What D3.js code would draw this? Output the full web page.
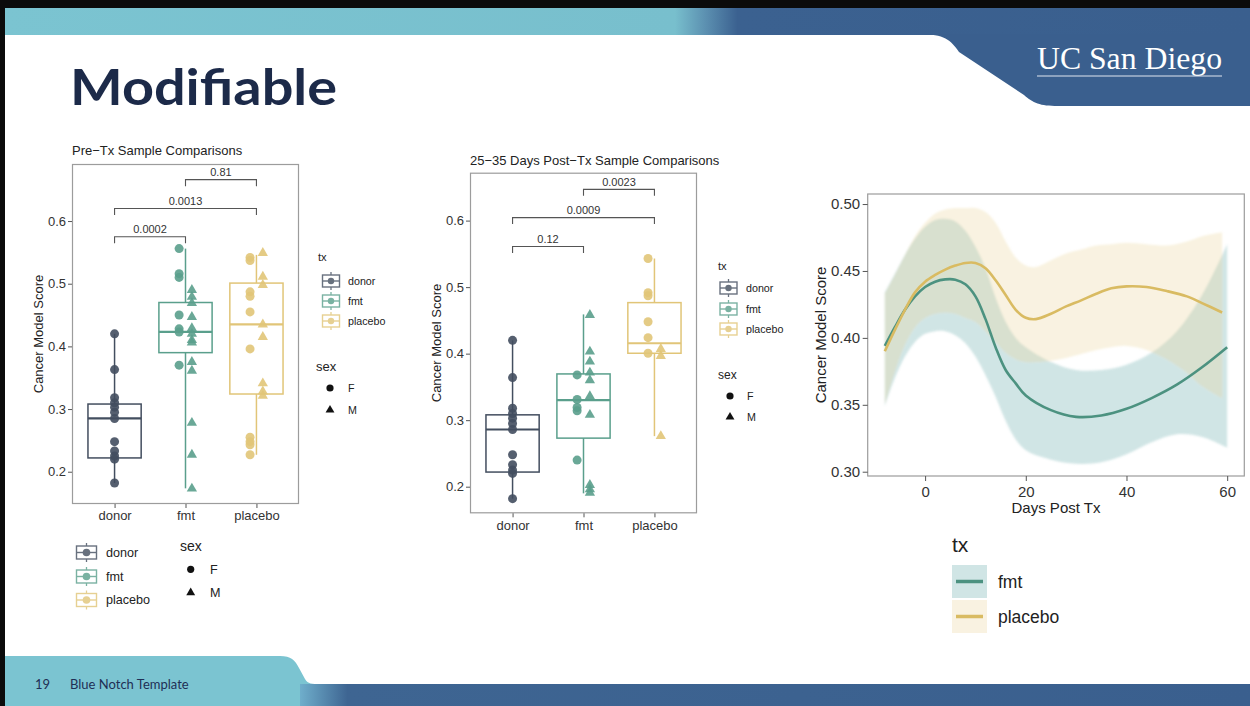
<!DOCTYPE html>
<html><head><meta charset="utf-8">
<script src="https://cdn.jsdelivr.net/npm/d3@7"></script>
<style>
html,body{margin:0;padding:0;background:#fff;}
svg{display:block;}
</style></head>
<body>
<svg id="c" width="1250" height="706"></svg>
<script>
// ---------------- DATA ----------------
const groups = ["donor", "fmt", "placebo"];
const yTicksBox = [0.2, 0.3, 0.4, 0.5, 0.6];

// Pre-Tx points by group and sex
const preDonorF = [0.420, 0.363, 0.318, 0.310, 0.303, 0.295, 0.285, 0.248, 0.233, 0.225, 0.220, 0.182];
const preDonorM = [];
const preFmtF = [0.556, 0.516, 0.510, 0.450, 0.428, 0.423, 0.370];
const preFmtM = [0.490, 0.479, 0.469, 0.447, 0.429, 0.420, 0.410, 0.406, 0.375, 0.361, 0.278, 0.227, 0.173];
const prePlaceboF = [0.542, 0.537, 0.487, 0.480, 0.455, 0.396, 0.255, 0.248, 0.243, 0.227];
const prePlaceboM = [0.549, 0.511, 0.498, 0.435, 0.415, 0.341, 0.328, 0.321];
// Pre-Tx box stats (donor, fmt, placebo)
const preLo  = [0.182, 0.1735, 0.227];
const preQ1  = [0.222, 0.390, 0.324];
const preMed = [0.285, 0.423, 0.435];
const preQ3  = [0.308, 0.470, 0.501];
const preHi  = [0.420, 0.556, 0.546];
// Pre-Tx comparisons
const preCmpA = ["donor", "donor", "fmt"];
const preCmpB = ["fmt", "placebo", "placebo"];
const preCmpY = [0.575, 0.620, 0.666];
const preCmpP = ["0.0002", "0.0013", "0.81"];

// Post-Tx points
const postDonorF = [0.420, 0.364, 0.318, 0.310, 0.303, 0.295, 0.286, 0.248, 0.233, 0.225, 0.220, 0.182];
const postDonorM = [];
const postFmtF = [0.368, 0.331, 0.319, 0.314, 0.240];
const postFmtM = [0.458, 0.403, 0.388, 0.3715, 0.360, 0.336, 0.308, 0.2026, 0.196, 0.191];
const postPlaceboF = [0.543, 0.4917, 0.487, 0.448, 0.424, 0.4006];
const postPlaceboM = [0.407, 0.3965, 0.276];
const postLo  = [0.182, 0.190, 0.276];
const postQ1  = [0.222, 0.273, 0.4006];
const postMed = [0.286, 0.330, 0.4156];
const postQ3  = [0.308, 0.3695, 0.4767];
const postHi  = [0.420, 0.459, 0.543];
const postCmpA = ["donor", "donor", "fmt"];
const postCmpB = ["fmt", "placebo", "placebo"];
const postCmpY = [0.561, 0.6045, 0.647];
const postCmpP = ["0.12", "0.0009", "0.0023"];

// Smooth (loess) curves over days post Tx
const smoothYTicks = [0.30, 0.35, 0.40, 0.45, 0.50];
const smoothXTicks = [0, 20, 40, 60];
const fmtDays = [-8,-6,-4,-2,0,2,4,6,8,10,12,14,16,18,20,25,30,35,40,45,50,55,60];
const fmtFit  = [0.394,0.408,0.421,0.431,0.438,0.442,0.4437,0.4435,0.440,0.431,0.414,0.393,0.376,0.366,0.357,0.346,0.341,0.342,0.347,0.355,0.365,0.378,0.393];
const fmtLo   = [0.349,0.370,0.386,0.397,0.403,0.405,0.405,0.402,0.396,0.386,0.372,0.356,0.338,0.324,0.316,0.309,0.306,0.307,0.313,0.322,0.328,0.326,0.318];
const fmtHi   = [0.434,0.448,0.462,0.474,0.483,0.488,0.489,0.487,0.480,0.468,0.452,0.430,0.412,0.400,0.393,0.382,0.376,0.376,0.380,0.389,0.405,0.432,0.470];
const placeboDays = [-8,-6,-4,-2,0,2,4,6,8,10,12,14,16,18,20,22,25,28,31,34,37,40,44,48,52,55,59];
const placeboFit  = [0.390,0.406,0.421,0.434,0.442,0.447,0.451,0.454,0.456,0.456,0.452,0.443,0.432,0.421,0.415,0.414,0.418,0.4235,0.428,0.433,0.437,0.4385,0.438,0.435,0.431,0.426,0.419];
const placeboLo   = [0.350,0.375,0.395,0.408,0.415,0.418,0.419,0.418,0.415,0.412,0.405,0.397,0.389,0.384,0.382,0.382,0.383,0.385,0.388,0.391,0.393,0.394,0.391,0.384,0.374,0.364,0.355];
const placeboHi   = [0.433,0.447,0.462,0.476,0.486,0.493,0.496,0.497,0.497,0.497,0.494,0.486,0.472,0.460,0.454,0.453,0.458,0.463,0.466,0.469,0.470,0.471,0.470,0.469,0.472,0.476,0.479];

// ---------------- STYLE ----------------
const FONT = "'Liberation Sans', Arial, Helvetica, sans-serif";
const boxColors = {donor: "#434e5f", fmt: "#5a9f8c", placebo: "#e1c578"};
const axisGray = "#9c9c9c";
const textGray = "#333";

const svg = d3.select("#c");

// ---------------- SLIDE DECOR ----------------
const defs = svg.append("defs");
const tg = defs.append("linearGradient").attr("id", "topg").attr("x1", 0).attr("x2", 1).attr("y1", 0).attr("y2", 0);
tg.append("stop").attr("offset", "0%").attr("stop-color", "#7bc4d1");
tg.append("stop").attr("offset", "54%").attr("stop-color", "#78bfcd");
tg.append("stop").attr("offset", "56.5%").attr("stop-color", "#5b8fb0");
tg.append("stop").attr("offset", "59%").attr("stop-color", "#3b6190");
tg.append("stop").attr("offset", "100%").attr("stop-color", "#3a5f8e");
const bg = defs.append("linearGradient").attr("id", "botg").attr("x1", 0).attr("x2", 1).attr("y1", 0).attr("y2", 0);
bg.append("stop").attr("offset", "0%").attr("stop-color", "#6faecb");
bg.append("stop").attr("offset", "5%").attr("stop-color", "#3e6592");
bg.append("stop").attr("offset", "100%").attr("stop-color", "#3a5f8e");
const blur = defs.append("filter").attr("id", "soft").attr("x", "-5%").attr("y", "-5%").attr("width", "110%").attr("height", "110%");
blur.append("feGaussianBlur").attr("stdDeviation", 1.2);

svg.append("rect").attr("x", 0).attr("y", 8).attr("width", 1250).attr("height", 27).attr("fill", "url(#topg)");
svg.append("path").attr("fill", "#3a5f8e")
  .attr("d", "M920 34 C944 34 951 40 959 52 L1024 95 C1033 103 1040 106 1058 106 L1250 106 L1250 34 Z");
svg.append("text").attr("x", 1037).attr("y", 69).attr("fill", "#fff")
  .attr("font-family", "'Liberation Serif','DejaVu Serif',serif").attr("font-size", 31)
  .attr("textLength", 185).attr("lengthAdjust", "spacingAndGlyphs").text("UC San Diego");
svg.append("line").attr("x1", 1037).attr("x2", 1222).attr("y1", 76).attr("y2", 76).attr("stroke", "#dfe6ef").attr("stroke-width", 1);

svg.append("text").attr("x", 70).attr("y", 105).attr("fill", "#1c2a49")
  .attr("font-family", "Lato, 'Open Sans', sans-serif").attr("font-weight", 700).attr("font-size", 50)
  .attr("textLength", 267).attr("lengthAdjust", "spacingAndGlyphs")
  .text("Modifiable");

// footer
svg.append("path").attr("fill", "#7bc4d1")
  .attr("d", "M0 656 L280 656 C291 656 295 660 299 668 L305 679 C308 684 312 684 320 684 L1250 684 L1250 706 L0 706 Z");
svg.append("rect").attr("x", 300).attr("y", 684).attr("width", 950).attr("height", 22).attr("fill", "url(#botg)");
svg.append("text").attr("x", 35).attr("y", 689).attr("fill", "#1f2f55").attr("font-family", "Lato, sans-serif")
  .attr("font-size", 13).text("19");
svg.append("text").attr("x", 70).attr("y", 689).attr("fill", "#1f2f55").attr("font-family", "Lato, sans-serif")
  .attr("font-size", 13).text("Blue Notch Template");

// black frame
svg.append("rect").attr("x", 0).attr("y", 0).attr("width", 1250).attr("height", 8).attr("fill", "#0b0b0b");
svg.append("rect").attr("x", 0).attr("y", 0).attr("width", 5).attr("height", 706).attr("fill", "#0b0b0b");

// ---------------- HELPERS ----------------
function styleAxis(g, fs) {
  g.select(".domain").remove();
  g.selectAll(".tick line").attr("stroke", "#555");
  g.selectAll(".tick text").attr("fill", textGray).attr("font-family", FONT).attr("font-size", fs);
}

function boxKey(g, cx, cy, hw, hh, color, r) {
  const k = g.append("g").attr("opacity", 0.8);
  k.append("line").attr("x1", cx).attr("x2", cx).attr("y1", cy - hh - 3).attr("y2", cy + hh + 3).attr("stroke", color).attr("stroke-width", 1.3);
  k.append("rect").attr("x", cx - hw).attr("y", cy - hh).attr("width", 2 * hw).attr("height", 2 * hh)
    .attr("fill", "#fff").attr("stroke", color).attr("stroke-width", 1.4);
  k.append("line").attr("x1", cx - hw).attr("x2", cx + hw).attr("y1", cy).attr("y2", cy).attr("stroke", color).attr("stroke-width", 1.4);
  k.append("circle").attr("cx", cx).attr("cy", cy).attr("r", r).attr("fill", color);
}

function boxChart(o) {
  const g = svg.append("g");
  const x = d3.scalePoint().domain(groups).range([o.x0, o.x1]).padding(0.6);
  const y = d3.scaleLinear().domain(o.dom).range([o.y1, o.y0]);
  const step = x.step();
  const bw = step * 0.75;

  g.append("text").attr("x", o.x0).attr("y", o.titleY).attr("font-family", FONT).attr("font-size", 13)
    .attr("fill", "#222").text(o.title);

  groups.forEach((grp, i) => {
    const cx = x(grp), c = boxColors[grp];
    g.append("line").attr("x1", cx).attr("x2", cx).attr("y1", y(o.hi[i])).attr("y2", y(o.q3[i])).attr("stroke", c).attr("stroke-width", 1.5);
    g.append("line").attr("x1", cx).attr("x2", cx).attr("y1", y(o.q1[i])).attr("y2", y(o.lo[i])).attr("stroke", c).attr("stroke-width", 1.5);
    g.append("rect").attr("x", cx - bw / 2).attr("y", y(o.q3[i])).attr("width", bw).attr("height", y(o.q1[i]) - y(o.q3[i]))
      .attr("fill", "none").attr("stroke", c).attr("stroke-width", 1.5);
    g.append("line").attr("x1", cx - bw / 2).attr("x2", cx + bw / 2).attr("y1", y(o.med[i])).attr("y2", y(o.med[i])).attr("stroke", c).attr("stroke-width", 2.2);
  });

  groups.forEach((grp, i) => {
    const F = o.F[i], M = o.M[i], c = boxColors[grp];
    const both = F.length && M.length;
    const dx = both ? step * 0.09 : 0;
    g.selectAll(null).data(F).enter().append("circle")
      .attr("cx", x(grp) - dx).attr("cy", d => y(d)).attr("r", 4.5).attr("fill", c).attr("opacity", 0.9);
    g.selectAll(null).data(M).enter().append("path")
      .attr("d", d3.symbol(d3.symbolTriangle, 46))
      .attr("transform", d => `translate(${x(grp) + dx},${y(d)})`).attr("fill", c).attr("opacity", 0.9);
  });

  g.append("rect").attr("x", o.x0 + 0.5).attr("y", o.y0 + 0.5).attr("width", o.x1 - o.x0 - 1).attr("height", o.y1 - o.y0 - 1)
    .attr("fill", "none").attr("stroke", axisGray).attr("stroke-width", 1.2);

  o.cmpA.forEach((a, i) => {
    const b = o.cmpB[i], yy = y(o.cmpY[i]), tip = 6.5;
    g.append("path").attr("d", `M${x(a)},${yy + tip} L${x(a)},${yy} L${x(b)},${yy} L${x(b)},${yy + tip}`)
      .attr("fill", "none").attr("stroke", "#555").attr("stroke-width", 1.1);
    g.append("text").attr("x", (x(a) + x(b)) / 2).attr("y", yy - 3.5).attr("text-anchor", "middle")
      .attr("font-family", FONT).attr("font-size", 11).attr("fill", "#333").text(o.cmpP[i]);
  });

  const ya = g.append("g").attr("transform", `translate(${o.x0},0)`)
    .call(d3.axisLeft(y).tickValues(yTicksBox).tickSize(4).tickPadding(2).tickFormat(d3.format(".1f")));
  styleAxis(ya, 13);
  const xa = g.append("g").attr("transform", `translate(0,${o.y1})`)
    .call(d3.axisBottom(x).tickSize(4).tickPadding(3));
  styleAxis(xa, 13);

  g.append("text").attr("transform", `translate(${o.ylabX},${(o.y0 + o.y1) / 2}) rotate(-90)`)
    .attr("text-anchor", "middle").attr("font-family", FONT).attr("font-size", 13).attr("fill", "#222").text("Cancer Model Score");
  return g;
}

function sexLegend(g, x, yTitle, yF, yM, dotX, txtX, fs, tfs) {
  g.append("text").attr("x", x).attr("y", yTitle).attr("font-family", FONT).attr("font-size", tfs).attr("fill", "#222").text("sex");
  g.append("circle").attr("cx", dotX).attr("cy", yF).attr("r", 3.6).attr("fill", "#111");
  g.append("path").attr("d", d3.symbol(d3.symbolTriangle, 34)).attr("transform", `translate(${dotX},${yM})`).attr("fill", "#111");
  g.append("text").attr("x", txtX).attr("y", yF).attr("dy", "0.35em").attr("font-family", FONT).attr("font-size", fs).attr("fill", "#222").text("F");
  g.append("text").attr("x", txtX).attr("y", yM).attr("dy", "0.35em").attr("font-family", FONT).attr("font-size", fs).attr("fill", "#222").text("M");
}

function txLegend(g, titleX, titleY, keyX, labX, rows, fs, hw, hh, r, showTitle) {
  if (showTitle) g.append("text").attr("x", titleX).attr("y", titleY).attr("font-family", FONT).attr("font-size", fs + 0.5).attr("fill", "#222").text("tx");
  groups.forEach((grp, i) => {
    boxKey(g, keyX, rows[i], hw, hh, boxColors[grp], r);
    g.append("text").attr("x", labX).attr("y", rows[i]).attr("dy", "0.35em").attr("font-family", FONT).attr("font-size", fs).attr("fill", "#222").text(grp);
  });
}

// ---------------- LEFT CHART ----------------
const gL = boxChart({
  x0: 72, x1: 299, y0: 164, y1: 504, dom: [0.1485, 0.691], title: "Pre\u2212Tx Sample Comparisons", titleY: 154.5,
  lo: preLo, q1: preQ1, med: preMed, q3: preQ3, hi: preHi,
  F: [preDonorF, preFmtF, prePlaceboF], M: [preDonorM, preFmtM, prePlaceboM],
  cmpA: preCmpA, cmpB: preCmpB, cmpY: preCmpY, cmpP: preCmpP, ylabX: 43
});
txLegend(gL, 318, 261, 331, 348, [281, 301, 321], 10.7, 8.5, 6, 3.2, true);
sexLegend(gL, 316, 371, 388, 410, 330, 348, 10.7, 13);
txLegend(gL, 0, 0, 86.5, 106, [552.5, 576.5, 600], 12.6, 10, 6.5, 3.8, false);
sexLegend(gL, 180, 551, 569.3, 592.7, 190.7, 210, 12.6, 14);

// ---------------- MIDDLE CHART ----------------
const gM = boxChart({
  x0: 470, x1: 697, y0: 172.7, y1: 513.3, dom: [0.160, 0.672], title: "25\u221235 Days Post\u2212Tx Sample Comparisons", titleY: 164.5,
  lo: postLo, q1: postQ1, med: postMed, q3: postQ3, hi: postHi,
  F: [postDonorF, postFmtF, postPlaceboF], M: [postDonorM, postFmtM, postPlaceboM],
  cmpA: postCmpA, cmpB: postCmpB, cmpY: postCmpY, cmpP: postCmpP, ylabX: 441
});
txLegend(gM, 718, 270, 728.5, 746, [288, 309, 329], 10.7, 8.5, 6, 3.2, true);
sexLegend(gM, 718, 379, 396, 417, 730, 747, 10.7, 12);

// ---------------- RIGHT CHART ----------------
const gR = svg.append("g");
const xR = d3.scaleLinear().domain([-11.4, 63.4]).range([867.7, 1244.3]);
const yR = d3.scaleLinear().domain([0.2968, 0.5075]).range([476, 194]);
const smoothStyle = {
  fmt: {line: "#4c9280", fill: "#64a9a8"},
  placebo: {line: "#d9bb62", fill: "#ecd39a"}
};
const series = [
  {name: "fmt", days: fmtDays, fit: fmtFit, lo: fmtLo, hi: fmtHi},
  {name: "placebo", days: placeboDays, fit: placeboFit, lo: placeboLo, hi: placeboHi}
];
const area = d3.area().curve(d3.curveCatmullRom.alpha(0.5));
const line = d3.line().curve(d3.curveCatmullRom.alpha(0.5));
const ribbons = gR.append("g").attr("filter", "url(#soft)");
series.forEach(s => {
  const pts = s.days.map((d, i) => i);
  ribbons.append("path").attr("d", area.x(i => xR(s.days[i])).y0(i => yR(s.lo[i])).y1(i => yR(s.hi[i]))(pts))
    .attr("fill", smoothStyle[s.name].fill).attr("fill-opacity", 0.3);
});
series.forEach(s => {
  const pts = s.days.map((d, i) => i);
  gR.append("path").attr("d", line.x(i => xR(s.days[i])).y(i => yR(s.fit[i]))(pts))
    .attr("fill", "none").attr("stroke", smoothStyle[s.name].line).attr("stroke-width", 2.6);
});
gR.append("rect").attr("x", 867.7).attr("y", 194).attr("width", 1244.3 - 867.7).attr("height", 476 - 194)
  .attr("fill", "none").attr("stroke", axisGray).attr("stroke-width", 1.2);
const yaR = gR.append("g").attr("transform", "translate(867.7,0)")
  .call(d3.axisLeft(yR).tickValues(smoothYTicks).tickSize(5).tickPadding(2.5).tickFormat(d3.format(".2f")));
styleAxis(yaR, 15);
const xaR = gR.append("g").attr("transform", "translate(0,476)")
  .call(d3.axisBottom(xR).tickValues(smoothXTicks).tickSize(5).tickPadding(5).tickFormat(d3.format("d")));
styleAxis(xaR, 15);
gR.append("text").attr("x", 1056).attr("y", 513).attr("text-anchor", "middle").attr("font-family", FONT).attr("font-size", 15).attr("fill", "#222").text("Days Post Tx");
gR.append("text").attr("transform", "translate(826,335) rotate(-90)").attr("text-anchor", "middle").attr("font-family", FONT).attr("font-size", 15).attr("fill", "#222").text("Cancer Model Score");

gR.append("text").attr("x", 952).attr("y", 552).attr("font-family", FONT).attr("font-size", 21).attr("fill", "#222").text("tx");
series.forEach((s, i) => {
  const ky = 565 + i * 35;
  gR.append("rect").attr("x", 952).attr("y", ky).attr("width", 35).attr("height", 33)
    .attr("fill", smoothStyle[s.name].fill).attr("fill-opacity", 0.3);
  gR.append("line").attr("x1", 956).attr("x2", 983).attr("y1", ky + 16.5).attr("y2", ky + 16.5)
    .attr("stroke", smoothStyle[s.name].line).attr("stroke-width", 3.5);
  gR.append("text").attr("x", 998).attr("y", ky + 16.5).attr("dy", "0.35em").attr("font-family", FONT).attr("font-size", 17.5).attr("fill", "#222").text(s.name);
});
</script>
</body></html>
